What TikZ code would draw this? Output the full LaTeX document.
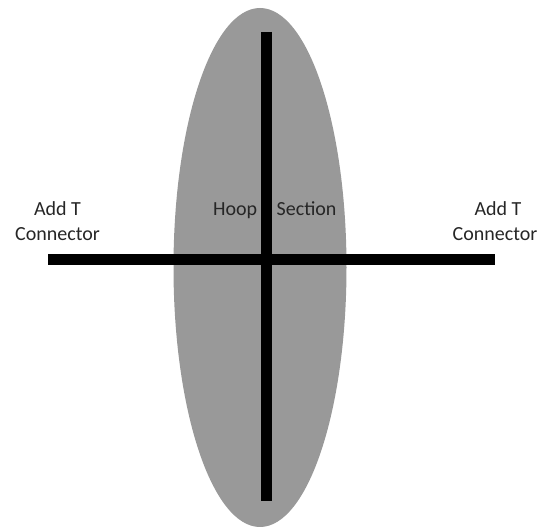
\documentclass[tikz,border=0pt]{standalone}
\usepackage{fontspec}
\setmainfont{Carlito}
\definecolor{hoopgray}{RGB}{153,153,153}
\tikzset{
  lbl/.style={font=\fontsize{20}{25}\selectfont, text=black!85, inner sep=0pt, anchor=base, align=center},
  bar/.style={line width=11pt, black}
}
\begin{document}
\begin{tikzpicture}[x=1pt,y=-1pt]
\useasboundingbox (0,0) rectangle (558,529);
\fill[hoopgray] (260,267.5) ellipse [x radius=86.5, y radius=259.5];
\coordinate (vt) at (266,32);
\coordinate (vb) at (266,501);
\coordinate (hl) at (48,259.5);
\coordinate (hr) at (495,259.5);
\draw[bar] (vt) -- (vb);
\draw[bar] (hl) -- (hr);
\node[lbl] (addl) at (57.5,216) {Add T};
\node[lbl] (conl) at (57.5,241) {Connector};
\node[lbl] (addr) at (498,216) {Add T};
\node[lbl] (conr) at (495,241) {Connector};
\node[lbl, anchor=base west] (hoop) at (213,216) {Hoop};
\node[lbl, anchor=base west] (sect) at (276.5,216) {Section};
\end{tikzpicture}
\end{document}
